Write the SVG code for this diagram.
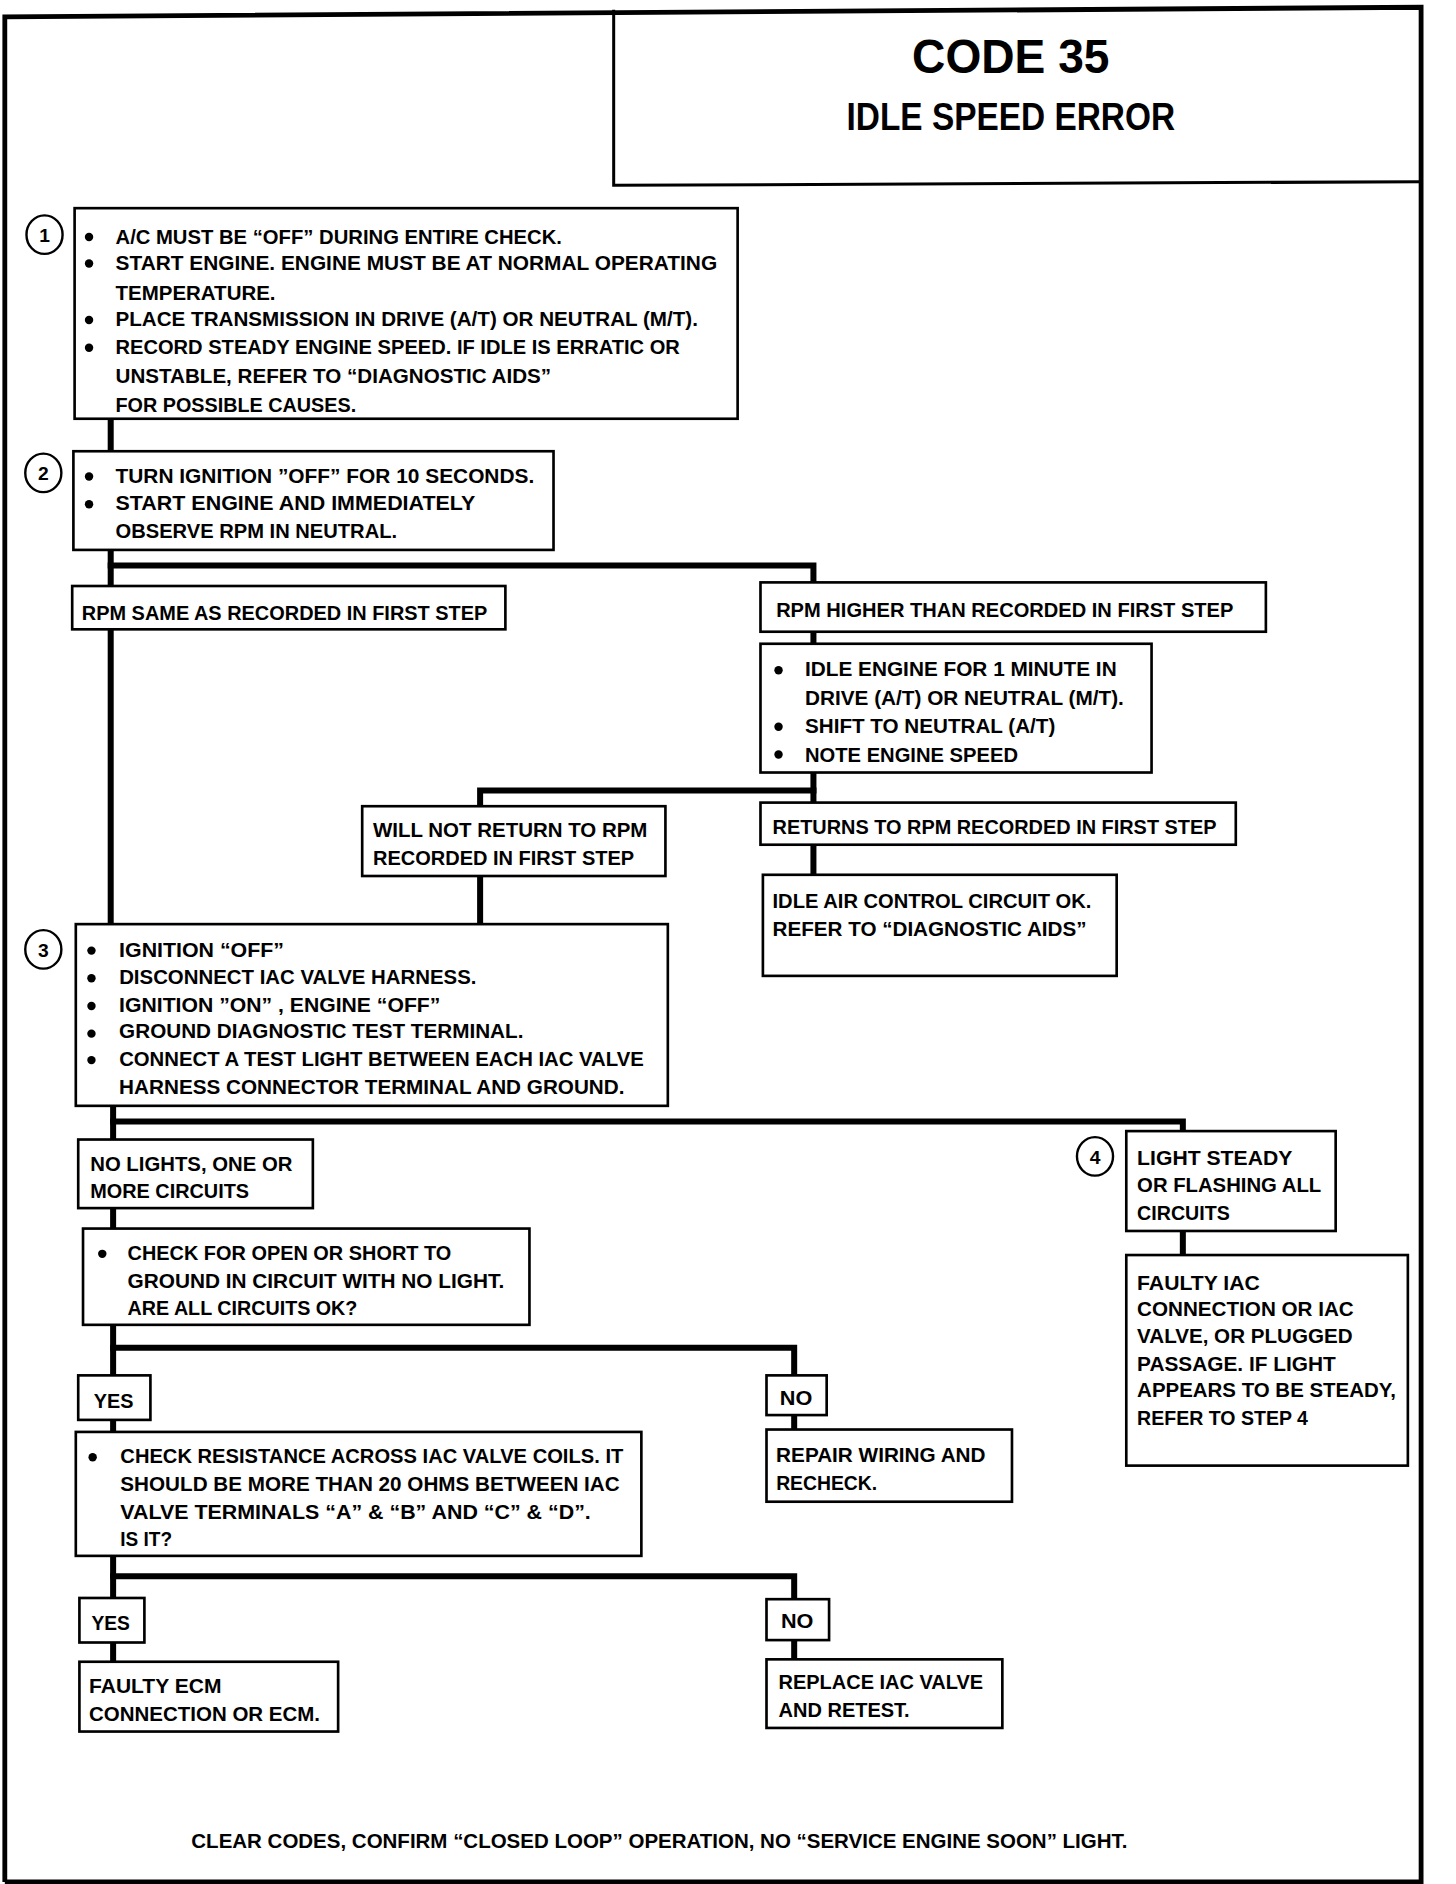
<svg xmlns="http://www.w3.org/2000/svg" width="1456" height="1884" viewBox="0 0 1456 1884">
<style>
.bx{fill:#fff;stroke:#000;stroke-width:2.2}
.cn{fill:none;stroke:#000;stroke-width:5;stroke-linejoin:miter;stroke-linecap:square}
.fr{fill:none;stroke:#000;stroke-width:4}
text{font-family:"Liberation Sans",Arial,sans-serif;font-weight:bold;fill:#000}
.t{font-size:17px}
.n{font-size:16px;text-anchor:middle}
.bl{fill:#000}
.ci{fill:#fff;stroke:#000;stroke-width:2}
</style>
<rect x="0" y="0" width="1456" height="1884" fill="#fff"/>
<g transform="scale(1.2033)">
<g id="frame">
<polyline class="fr" points="4,1564 4,14 1181,6 1181,1564 4,1564"/>
</g>
<g id="title">
<polyline class="fr" points="510,8 510,154 1181,151" style="stroke-width:2.5"/>
<text x="840" y="61" font-size="40" text-anchor="middle" textLength="164" lengthAdjust="spacingAndGlyphs">CODE 35</text>
<text x="840" y="108" font-size="33" text-anchor="middle" textLength="273" lengthAdjust="spacingAndGlyphs">IDLE SPEED ERROR</text>
</g>
<g id="connectors">
<polyline class="cn" points="92,348 92,768"/>
<polyline class="cn" points="92,470 676,470 676,484"/>
<polyline class="cn" points="676,525 676,667"/>
<polyline class="cn" points="676,657 399,657 399,670"/>
<polyline class="cn" points="399,728 399,768"/>
<polyline class="cn" points="676,702 676,727"/>
<polyline class="cn" points="94,919 94,1143"/>
<polyline class="cn" points="94,932 983,932 983,940"/>
<polyline class="cn" points="983,1023 983,1043"/>
<polyline class="cn" points="94,1120 660,1120 660,1143"/>
<polyline class="cn" points="660,1176 660,1188"/>
<polyline class="cn" points="94,1180 94,1190"/>
<polyline class="cn" points="94,1293 94,1381"/>
<polyline class="cn" points="94,1310 660,1310 660,1329"/>
<polyline class="cn" points="660,1363 660,1379"/>
</g>
<g id="step1">
<ellipse class="ci" cx="37" cy="195" rx="15" ry="16"/>
<text class="n" x="37" y="201">1</text>
<rect class="bx" x="62" y="173" width="551" height="175"/>
<circle class="bl" cx="74" cy="197" r="3.5"/>
<circle class="bl" cx="74" cy="219" r="3.5"/>
<circle class="bl" cx="74" cy="266" r="3.5"/>
<circle class="bl" cx="74" cy="289" r="3.5"/>
<text class="t" x="96" y="203" textLength="371" lengthAdjust="spacingAndGlyphs">A/C MUST BE “OFF” DURING ENTIRE CHECK.</text>
<text class="t" x="96" y="224" textLength="500" lengthAdjust="spacingAndGlyphs">START ENGINE.  ENGINE MUST BE AT NORMAL OPERATING</text>
<text class="t" x="96" y="249" textLength="133" lengthAdjust="spacingAndGlyphs">TEMPERATURE.</text>
<text class="t" x="96" y="271" textLength="484" lengthAdjust="spacingAndGlyphs">PLACE TRANSMISSION IN DRIVE (A/T) OR NEUTRAL (M/T).</text>
<text class="t" x="96" y="294" textLength="469" lengthAdjust="spacingAndGlyphs">RECORD STEADY ENGINE SPEED.  IF IDLE IS ERRATIC OR</text>
<text class="t" x="96" y="318" textLength="362" lengthAdjust="spacingAndGlyphs">UNSTABLE, REFER TO “DIAGNOSTIC AIDS”</text>
<text class="t" x="96" y="342" textLength="200" lengthAdjust="spacingAndGlyphs">FOR POSSIBLE CAUSES.</text>
</g>
<g id="step2">
<ellipse class="ci" cx="36" cy="393" rx="15" ry="16"/>
<text class="n" x="36" y="399">2</text>
<rect class="bx" x="61" y="375" width="399" height="82"/>
<circle class="bl" cx="74" cy="396" r="3.5"/>
<circle class="bl" cx="74" cy="419" r="3.5"/>
<text class="t" x="96" y="401" textLength="348" lengthAdjust="spacingAndGlyphs">TURN IGNITION ”OFF”  FOR 10 SECONDS.</text>
<text class="t" x="96" y="424" textLength="299" lengthAdjust="spacingAndGlyphs">START ENGINE  AND IMMEDIATELY</text>
<text class="t" x="96" y="447" textLength="234" lengthAdjust="spacingAndGlyphs">OBSERVE RPM IN NEUTRAL.</text>
</g>
<g id="rpm-same">
<rect class="bx" x="60" y="487" width="360" height="36"/>
<text class="t" x="68" y="515" textLength="337" lengthAdjust="spacingAndGlyphs">RPM SAME AS RECORDED IN FIRST STEP</text>
</g>
<g id="rpm-higher">
<rect class="bx" x="632" y="484" width="420" height="41"/>
<text class="t" x="645" y="513" textLength="380" lengthAdjust="spacingAndGlyphs">RPM HIGHER THAN RECORDED IN FIRST STEP</text>
</g>
<g id="idle-engine">
<rect class="bx" x="632" y="535" width="325" height="107"/>
<circle class="bl" cx="647" cy="557" r="3.5"/>
<circle class="bl" cx="647" cy="604" r="3.5"/>
<circle class="bl" cx="647" cy="627" r="3.5"/>
<text class="t" x="669" y="562" textLength="259" lengthAdjust="spacingAndGlyphs">IDLE ENGINE FOR 1 MINUTE  IN</text>
<text class="t" x="669" y="586" textLength="265" lengthAdjust="spacingAndGlyphs">DRIVE (A/T) OR NEUTRAL (M/T).</text>
<text class="t" x="669" y="609" textLength="208" lengthAdjust="spacingAndGlyphs">SHIFT TO NEUTRAL (A/T)</text>
<text class="t" x="669" y="633" textLength="177" lengthAdjust="spacingAndGlyphs">NOTE ENGINE SPEED</text>
</g>
<g id="will-not-return">
<rect class="bx" x="301" y="670" width="252" height="58"/>
<text class="t" x="310" y="696" textLength="228" lengthAdjust="spacingAndGlyphs">WILL NOT RETURN TO RPM</text>
<text class="t" x="310" y="719" textLength="217" lengthAdjust="spacingAndGlyphs">RECORDED  IN FIRST STEP</text>
</g>
<g id="returns">
<rect class="bx" x="632" y="667" width="395" height="35"/>
<text class="t" x="642" y="693" textLength="369" lengthAdjust="spacingAndGlyphs">RETURNS TO RPM RECORDED IN FIRST STEP</text>
</g>
<g id="iac-ok">
<rect class="bx" x="634" y="727" width="294" height="84"/>
<text class="t" x="642" y="755" textLength="265" lengthAdjust="spacingAndGlyphs">IDLE AIR CONTROL CIRCUIT OK.</text>
<text class="t" x="642" y="778" textLength="261" lengthAdjust="spacingAndGlyphs">REFER TO “DIAGNOSTIC AIDS”</text>
</g>
<g id="step3">
<ellipse class="ci" cx="36" cy="789" rx="15" ry="16"/>
<text class="n" x="36" y="795">3</text>
<rect class="bx" x="63" y="768" width="492" height="151"/>
<circle class="bl" cx="76" cy="790" r="3.5"/>
<circle class="bl" cx="76" cy="813" r="3.5"/>
<circle class="bl" cx="76" cy="836" r="3.5"/>
<circle class="bl" cx="76" cy="859" r="3.5"/>
<circle class="bl" cx="76" cy="881" r="3.5"/>
<text class="t" x="99" y="795" textLength="137" lengthAdjust="spacingAndGlyphs">IGNITION “OFF”</text>
<text class="t" x="99" y="818" textLength="297" lengthAdjust="spacingAndGlyphs">DISCONNECT IAC VALVE HARNESS.</text>
<text class="t" x="99" y="841" textLength="267" lengthAdjust="spacingAndGlyphs">IGNITION ”ON” , ENGINE “OFF”</text>
<text class="t" x="99" y="863" textLength="336" lengthAdjust="spacingAndGlyphs">GROUND DIAGNOSTIC TEST TERMINAL.</text>
<text class="t" x="99" y="886" textLength="436" lengthAdjust="spacingAndGlyphs">CONNECT A TEST LIGHT BETWEEN EACH IAC VALVE</text>
<text class="t" x="99" y="909" textLength="420" lengthAdjust="spacingAndGlyphs">HARNESS CONNECTOR TERMINAL AND GROUND.</text>
</g>
<g id="no-lights">
<rect class="bx" x="65" y="947" width="195" height="57"/>
<text class="t" x="75" y="973" textLength="168" lengthAdjust="spacingAndGlyphs">NO LIGHTS, ONE OR</text>
<text class="t" x="75" y="996" textLength="132" lengthAdjust="spacingAndGlyphs">MORE CIRCUITS</text>
</g>
<g id="check-open">
<rect class="bx" x="69" y="1021" width="371" height="80"/>
<circle class="bl" cx="85" cy="1042" r="3.5"/>
<text class="t" x="106" y="1047" textLength="269" lengthAdjust="spacingAndGlyphs">CHECK FOR OPEN OR SHORT TO</text>
<text class="t" x="106" y="1070" textLength="313" lengthAdjust="spacingAndGlyphs">GROUND IN CIRCUIT WITH NO LIGHT.</text>
<text class="t" x="106" y="1093" textLength="191" lengthAdjust="spacingAndGlyphs">ARE ALL CIRCUITS OK?</text>
</g>
<g id="yes1">
<rect class="bx" x="65" y="1143" width="60" height="37"/>
<text class="t" x="78" y="1170" textLength="33" lengthAdjust="spacingAndGlyphs">YES</text>
</g>
<g id="no1">
<rect class="bx" x="637" y="1143" width="50" height="33"/>
<text class="t" x="648" y="1168" textLength="27" lengthAdjust="spacingAndGlyphs">NO</text>
</g>
<g id="repair-wiring">
<rect class="bx" x="637" y="1188" width="204" height="60"/>
<text class="t" x="645" y="1215" textLength="174" lengthAdjust="spacingAndGlyphs">REPAIR WIRING AND</text>
<text class="t" x="645" y="1238" textLength="84" lengthAdjust="spacingAndGlyphs">RECHECK.</text>
</g>
<g id="check-resistance">
<rect class="bx" x="63" y="1190" width="470" height="103"/>
<circle class="bl" cx="77" cy="1211" r="3.5"/>
<text class="t" x="100" y="1216" textLength="418" lengthAdjust="spacingAndGlyphs">CHECK RESISTANCE ACROSS IAC VALVE COILS.  IT</text>
<text class="t" x="100" y="1239" textLength="415" lengthAdjust="spacingAndGlyphs">SHOULD BE MORE THAN 20 OHMS BETWEEN IAC</text>
<text class="t" x="100" y="1262" textLength="391" lengthAdjust="spacingAndGlyphs">VALVE TERMINALS “A” &amp; “B” AND “C” &amp; “D”.</text>
<text class="t" x="100" y="1285" textLength="43" lengthAdjust="spacingAndGlyphs">IS IT?</text>
</g>
<g id="yes2">
<rect class="bx" x="66" y="1328" width="54" height="37"/>
<text class="t" x="76" y="1355" textLength="32" lengthAdjust="spacingAndGlyphs">YES</text>
</g>
<g id="faulty-ecm">
<rect class="bx" x="66" y="1381" width="215" height="58"/>
<text class="t" x="74" y="1407" textLength="110" lengthAdjust="spacingAndGlyphs">FAULTY ECM</text>
<text class="t" x="74" y="1430" textLength="192" lengthAdjust="spacingAndGlyphs">CONNECTION OR ECM.</text>
</g>
<g id="no2">
<rect class="bx" x="637" y="1329" width="52" height="34"/>
<text class="t" x="649" y="1353" textLength="27" lengthAdjust="spacingAndGlyphs">NO</text>
</g>
<g id="replace-iac">
<rect class="bx" x="637" y="1379" width="196" height="57"/>
<text class="t" x="647" y="1404" textLength="170" lengthAdjust="spacingAndGlyphs">REPLACE IAC VALVE</text>
<text class="t" x="647" y="1427" textLength="109" lengthAdjust="spacingAndGlyphs">AND RETEST.</text>
</g>
<g id="step4">
<ellipse class="ci" cx="910" cy="961" rx="15" ry="16"/>
<text class="n" x="910" y="967">4</text>
<rect class="bx" x="936" y="940" width="174" height="83"/>
<text class="t" x="945" y="968" textLength="129" lengthAdjust="spacingAndGlyphs">LIGHT  STEADY</text>
<text class="t" x="945" y="991" textLength="153" lengthAdjust="spacingAndGlyphs">OR FLASHING ALL</text>
<text class="t" x="945" y="1014" textLength="77" lengthAdjust="spacingAndGlyphs">CIRCUITS</text>
</g>
<g id="faulty-iac">
<rect class="bx" x="936" y="1043" width="234" height="175"/>
<text class="t" x="945" y="1072" textLength="102" lengthAdjust="spacingAndGlyphs">FAULTY IAC</text>
<text class="t" x="945" y="1094" textLength="180" lengthAdjust="spacingAndGlyphs">CONNECTION OR IAC</text>
<text class="t" x="945" y="1116" textLength="179" lengthAdjust="spacingAndGlyphs">VALVE, OR PLUGGED</text>
<text class="t" x="945" y="1139" textLength="165" lengthAdjust="spacingAndGlyphs">PASSAGE.  IF LIGHT</text>
<text class="t" x="945" y="1161" textLength="215" lengthAdjust="spacingAndGlyphs">APPEARS TO BE STEADY,</text>
<text class="t" x="945" y="1184" textLength="142" lengthAdjust="spacingAndGlyphs">REFER TO STEP 4</text>
</g>
<g id="footer">
<text class="t" x="159" y="1536" textLength="778" lengthAdjust="spacingAndGlyphs">CLEAR CODES, CONFIRM “CLOSED LOOP” OPERATION, NO “SERVICE ENGINE SOON” LIGHT.</text>
</g>
</g>
</svg>
